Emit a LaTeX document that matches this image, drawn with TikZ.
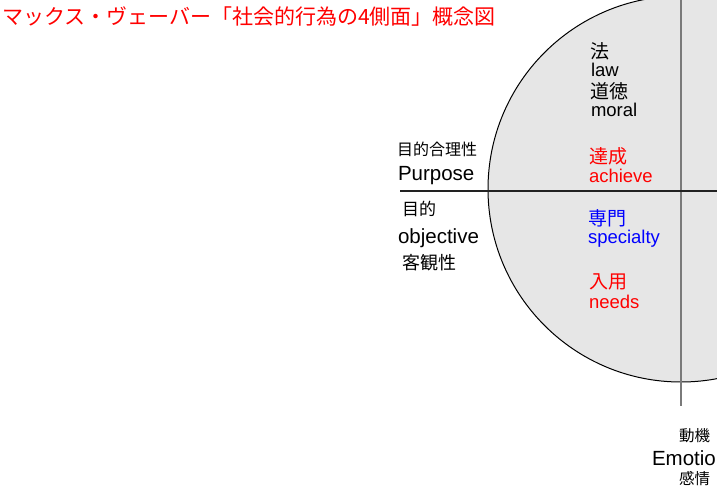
\documentclass[tikz,border=0pt]{standalone}
\usepackage{fontspec}
\setmainfont{Liberation Sans}
\newfontfamily\jp{Noto Sans CJK JP}
\definecolor{cfill}{HTML}{E6E6E6}
\definecolor{vgray}{HTML}{7A7A7A}
\definecolor{hline}{HTML}{222222}
\begin{document}
\begin{tikzpicture}[x=1pt,y=-1pt,
  txt/.style={inner sep=0pt, outer sep=0pt},
  jw/.style={txt, anchor=west},
  lb/.style={txt, anchor=base west},
  jbig/.style={font=\jp\fontsize{19}{19}\selectfont},
  ebig/.style={font=\fontsize{18.5}{18.5}\selectfont},
  elarge/.style={font=\fontsize{20.5}{20.5}\selectfont}]
\useasboundingbox (0,0) rectangle (717,492);
\node[circle, draw=black, line width=1pt, fill=cfill, minimum size=386pt, inner sep=0pt] (circ) at (681,189) {};
\coordinate (vtop) at (681,-10);
\coordinate (vbot) at (681,406);
\coordinate (hl) at (400,191);
\coordinate (hr) at (730,191);
\draw[vgray, line width=2pt] (vtop) -- (vbot);
\draw[hline, line width=1.2pt] (hl) -- (hr);
% title
\node[jw, red, font=\jp\fontsize{21}{21}\selectfont] (title) at (2,17) {マックス・ヴェーバー「社会的行為の4側面」概念図};
% left block
\node[jw, font=\jp\fontsize{16}{16}\selectfont] (pr1) at (397,149) {目的合理性};
\node[lb, elarge] (pr2) at (398,180) {Purpose};
\node[jw, font=\jp\fontsize{17}{17}\selectfont] (ob1) at (402,209) {目的};
\node[lb, elarge] (ob2) at (398,243) {objective};
\node[jw, font=\jp\fontsize{18}{18}\selectfont] (ob3) at (402,263) {客観性};
% circle texts
\node[jw, jbig] (law1) at (590,51) {法};
\node[lb, ebig] (law2) at (591,77) {law};
\node[jw, jbig] (mor1) at (590,91) {道徳};
\node[lb, ebig] (mor2) at (591,117) {moral};
\node[jw, jbig, red] (ach1) at (589,156) {達成};
\node[lb, ebig, red] (ach2) at (589,182) {achieve};
\node[jw, jbig, blue] (spe1) at (588,218) {専門};
\node[lb, ebig, blue] (spe2) at (588,243) {specialty};
\node[jw, jbig, red] (nee1) at (589,282) {入用};
\node[lb, ebig, red] (nee2) at (589,308) {needs};
% bottom block
\node[jw, font=\jp\fontsize{15.5}{15.5}\selectfont] (emo1) at (679,436) {動機};
\node[lb, elarge] (emo2) at (652,465) {Emotio};
\node[jw, font=\jp\fontsize{15.5}{15.5}\selectfont] (emo3) at (679,479) {感情};
\end{tikzpicture}
\end{document}
